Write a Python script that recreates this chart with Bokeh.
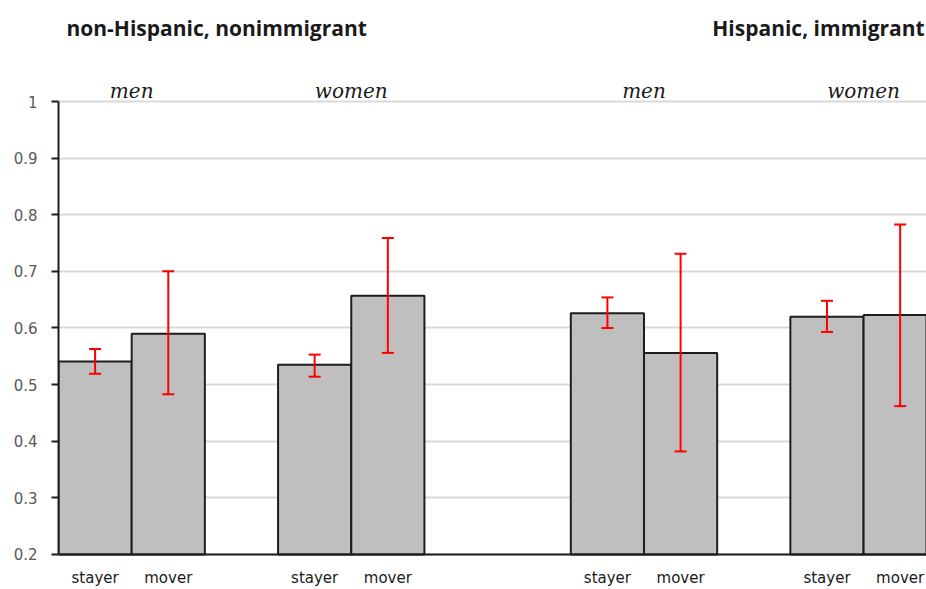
from bokeh.plotting import figure
from bokeh.models import (Range1d, FixedTicker, Whisker, TeeHead, ColumnDataSource, Span)
from bokeh.core.properties import value
from bokeh.embed import file_html
from bokeh.resources import INLINE

# ---- data ----
groups = ["non-Hispanic men", "non-Hispanic women", "Hispanic men", "Hispanic women"]
categories = ["stayer", "mover"]
values = [0.541, 0.590, 0.535, 0.657, 0.626, 0.556, 0.620, 0.623]
lower = [0.519, 0.483, 0.514, 0.556, 0.600, 0.382, 0.593, 0.462]
upper = [0.563, 0.700, 0.553, 0.759, 0.654, 0.731, 0.648, 0.783]
group_labels = ["men", "women", "men", "women"]
panel_titles = ["non-Hispanic, nonimmigrant", "Hispanic, immigrant"]
y_ticks = [0.2, 0.3, 0.4, 0.5, 0.6, 0.7, 0.8, 0.9, 1.0]
y_tick_labels = ["0.2", "0.3", "0.4", "0.5", "0.6", "0.7", "0.8", "0.9", "1"]
y_min, y_max = 0.2, 1.0

# ---- layout (slot positions of each group) ----
group_starts = [0, 3, 7, 10]
xs = []
labels = []
for gs in group_starts:
    for j, c in enumerate(categories):
        xs.append(gs + 0.5 + j)
        labels.append(c)

src = ColumnDataSource(dict(x=xs, top=values, lower=lower, upper=upper, cat=labels))

PX = 566.2  # pixels per unit on the y scale
p = figure(width=926, height=589, output_backend="svg", toolbar_location=None,
           x_range=Range1d(0, 11.86), y_range=Range1d(1.1784 - 589 / PX, 1.1784),
           min_border_left=58, min_border_right=0, min_border_top=0, min_border_bottom=0)
p.outline_line_color = None
p.background_fill_color = "white"
p.border_fill_color = "white"
p.xaxis.visible = False

p.ygrid.ticker = FixedTicker(ticks=y_ticks)
p.ygrid.grid_line_color = "#d9d9d9"
p.ygrid.grid_line_width = 2
p.xgrid.grid_line_color = None

p.vbar(x="x", top="top", bottom=y_min, width=1.0, source=src,
       fill_color="#bfbfbf", line_color="#1e1e1e", line_width=2)

# baseline (category axis line at 0.2)
p.add_layout(Span(location=y_min, dimension="width", line_color="#1e1e1e", line_width=2))

w = Whisker(base="x", upper="upper", lower="lower", source=src, level="overlay",
            line_color="#ff0000", line_width=2,
            upper_head=TeeHead(size=12, line_color="#ff0000", line_width=2),
            lower_head=TeeHead(size=12, line_color="#ff0000", line_width=2))
p.add_layout(w)

# y axis
p.yaxis.ticker = FixedTicker(ticks=y_ticks)
p.yaxis.bounds = (y_min, y_max)
p.yaxis.major_label_overrides = {t: s for t, s in zip(y_ticks, y_tick_labels)}
p.yaxis.major_label_text_font = "DejaVu Sans"
p.yaxis.major_label_text_font_size = "15px"
p.yaxis.major_label_text_color = "#595959"
p.yaxis.major_tick_out = 7
p.yaxis.major_tick_in = 0
p.yaxis.minor_tick_out = 0
p.yaxis.minor_tick_in = 0
p.yaxis.major_tick_line_color = "#1e1e1e"
p.yaxis.major_tick_line_width = 2
p.yaxis.axis_line_color = "#1e1e1e"
p.yaxis.axis_line_width = 2
p.yaxis.major_label_standoff = 14

# category labels under the bars
p.text(x=xs, y=[y_min - 24 / PX] * len(xs), text=labels, text_align="center",
       text_baseline="middle", text_font=value("DejaVu Sans"),
       text_font_size="15px", text_color="#1a1a1a")

# group labels (men / women) centred over each group
gx = [gs + 1.0 for gs in group_starts]
p.text(x=gx, y=[y_max + 11 / PX] * len(gx), text=group_labels, text_align="center",
       text_baseline="middle", text_font=value("DejaVu Serif"),
       text_font_style="italic", text_font_size="20px", text_color="#1a1a1a")

# panel titles
p.text(x=[0.109], y=[y_max + 74 / PX], text=panel_titles[:1], text_align="left",
       text_baseline="middle", text_font=value("Open Sans"),
       text_font_style="bold", text_font_size="21px", text_color="#1a1a1a")
p.text(x=[11.835], y=[y_max + 74 / PX], text=panel_titles[1:], text_align="right",
       text_baseline="middle", text_font=value("Open Sans"),
       text_font_style="bold", text_font_size="21px", text_color="#1a1a1a")

open("out.html", "w").write(file_html(p, INLINE))
